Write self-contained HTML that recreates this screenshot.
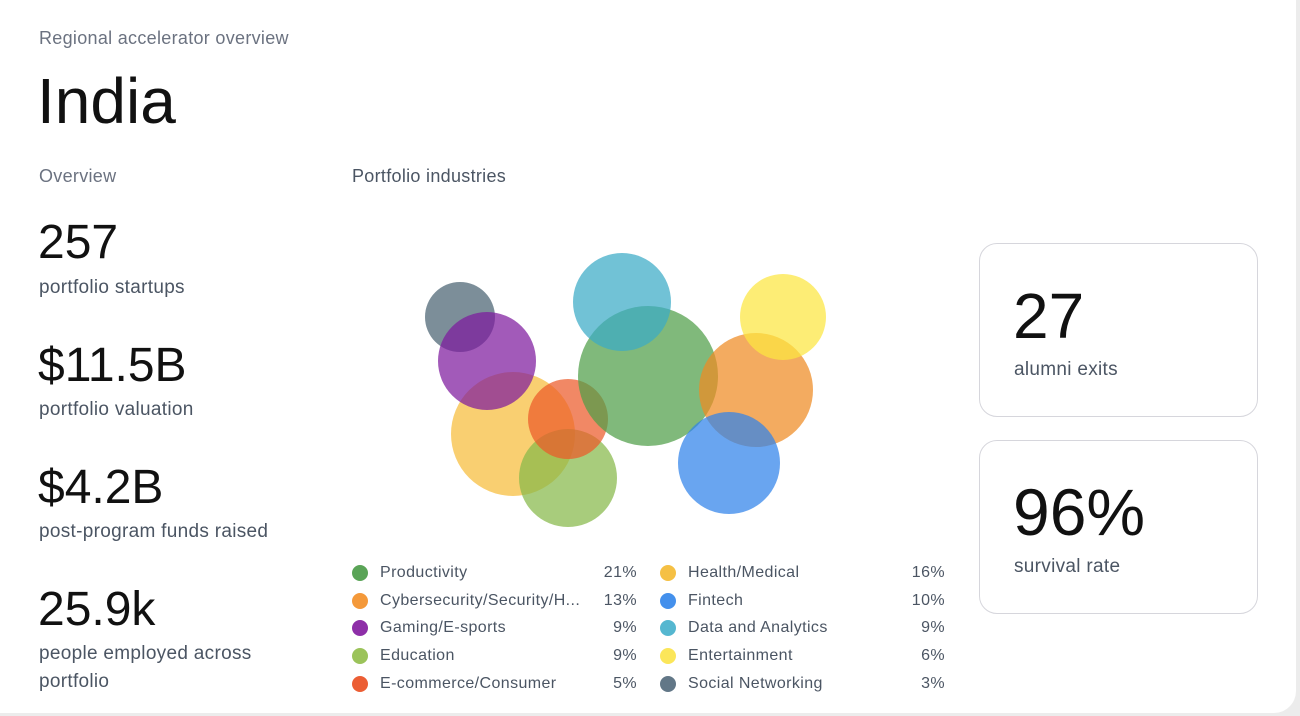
<!DOCTYPE html>
<html><head><meta charset="utf-8"><style>
body{margin:0;width:1300px;height:716px;background:#ececec;font-family:"Liberation Sans",sans-serif;overflow:hidden;position:relative}
.card{position:absolute;left:0;top:0;width:1296px;height:713px;background:#fff;border-radius:0 0 22px 0}
.t{position:absolute;white-space:nowrap}
.g{color:#6b7280;font-size:18px;letter-spacing:0.3px}
.lab{color:#4b5563;font-size:19px;letter-spacing:0.3px}
.big{color:#111;font-size:48px;letter-spacing:0px}
.box{position:absolute;left:979px;width:279px;height:174px;border:1.5px solid #d6d6dc;border-radius:18px;box-sizing:border-box}
.leg{position:absolute;font-size:16px;letter-spacing:0.4px;color:#4b5563;height:20px;line-height:20px}
.leg i{position:absolute;left:0;top:2px;width:16px;height:16px;border-radius:50%}
.leg span{position:absolute;left:28px}
.leg b{position:absolute;right:0;font-weight:normal}
circle{opacity:0.72}
</style></head><body><div class="card">
<div class="t g" style="left:39px;top:28px">Regional accelerator overview</div>
<div class="t" style="left:37px;top:64px;font-size:64px;color:#111">India</div>
<div class="t g" style="left:39px;top:166px;font-size:18px">Overview</div>
<div class="t g" style="left:352px;top:166px;font-size:18px;color:#4b5563">Portfolio industries</div>

<div class="t big" style="left:38px;top:215px">257</div>
<div class="t lab" style="left:39px;top:277px">portfolio startups</div>
<div class="t big" style="left:38px;top:338px">$11.5B</div>
<div class="t lab" style="left:39px;top:399px">portfolio valuation</div>
<div class="t big" style="left:38px;top:460px">$4.2B</div>
<div class="t lab" style="left:39px;top:521px">post-program funds raised</div>
<div class="t big" style="left:38px;top:582px">25.9k</div>
<div class="t lab" style="left:39px;top:643px">people employed across</div>
<div class="t lab" style="left:39px;top:671px">portfolio</div>

<svg style="position:absolute;left:0;top:0" width="1300" height="716">
<circle cx="460" cy="317" r="35" fill="#4a6272"/>
<circle cx="513" cy="434" r="62" fill="#f6bd3a"/>
<circle cx="487" cy="361" r="49" fill="#7e1a9e"/>
<circle cx="568" cy="478" r="49" fill="#86b84a"/>
<circle cx="568" cy="419" r="40" fill="#ec5a2a"/>
<circle cx="648" cy="376" r="70" fill="#4f9e48"/>
<circle cx="622" cy="302" r="49" fill="#3aaac6"/>
<circle cx="756" cy="390" r="57" fill="#ee8a22"/>
<circle cx="783" cy="317" r="43" fill="#fce640"/>
<circle cx="729" cy="463" r="51" fill="#2f82ea"/>
</svg>

<div class="leg" style="left:352px;top:563px;width:285px"><i style="background:#5aa457"></i><span>Productivity</span><b>21%</b></div>
<div class="leg" style="left:352px;top:591px;width:285px"><i style="background:#f4993a"></i><span>Cybersecurity/Security/H...</span><b>13%</b></div>
<div class="leg" style="left:352px;top:618px;width:285px"><i style="background:#8e2fa8"></i><span>Gaming/E-sports</span><b>9%</b></div>
<div class="leg" style="left:352px;top:646px;width:285px"><i style="background:#9bc35a"></i><span>Education</span><b>9%</b></div>
<div class="leg" style="left:352px;top:674px;width:285px"><i style="background:#ec5e34"></i><span>E-commerce/Consumer</span><b>5%</b></div>
<div class="leg" style="left:660px;top:563px;width:285px"><i style="background:#f5c044"></i><span>Health/Medical</span><b>16%</b></div>
<div class="leg" style="left:660px;top:591px;width:285px"><i style="background:#4490ec"></i><span>Fintech</span><b>10%</b></div>
<div class="leg" style="left:660px;top:618px;width:285px"><i style="background:#55b7d0"></i><span>Data and Analytics</span><b>9%</b></div>
<div class="leg" style="left:660px;top:646px;width:285px"><i style="background:#fbe65a"></i><span>Entertainment</span><b>6%</b></div>
<div class="leg" style="left:660px;top:674px;width:285px"><i style="background:#627787"></i><span>Social Networking</span><b>3%</b></div>

<div class="box" style="top:243px"></div>
<div class="t" style="left:1013px;top:279px;font-size:64px;color:#111">27</div>
<div class="t lab" style="left:1014px;top:359px">alumni exits</div>
<div class="box" style="top:440px"></div>
<div class="t" style="left:1013px;top:474px;font-size:66px;color:#111">96%</div>
<div class="t lab" style="left:1014px;top:556px">survival rate</div>
</div></body></html>
